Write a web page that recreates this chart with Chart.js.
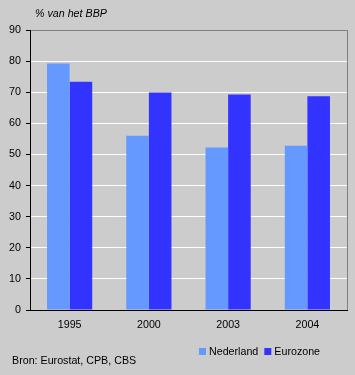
<!DOCTYPE html>
<html>
<head>
<meta charset="utf-8">
<script src="https://cdn.jsdelivr.net/npm/chart.js@4"></script>
<style>
html,body{margin:0;padding:0;background:#cccccc;}
canvas{display:block;}
</style>
</head>
<body>
<canvas id="c" width="355" height="375"></canvas>
<script>
const categories = ['1995', '2000', '2003', '2004'];
const nederland = [79.2, 56.0, 52.2, 52.8];
const eurozone = [73.4, 69.9, 69.3, 68.7];
const seriesNames = ['Nederland', 'Eurozone'];
const yTicks = [0, 10, 20, 30, 40, 50, 60, 70, 80, 90];
const titleText = '% van het BBP';
const sourceText = 'Bron: Eurostat, CPB, CBS';

const FONT = '"Liberation Sans", Arial, sans-serif';
const FS = 10.7;

const textPlugin = {
  id: 'texts',
  afterDraw(chart) {
    const ctx = chart.ctx;
    const ca = chart.chartArea;
    ctx.save();
    // right border
    ctx.strokeStyle = '#808080';
    ctx.lineWidth = 1;
    ctx.beginPath();
    ctx.moveTo(Math.round(ca.right) + 0.5, Math.round(ca.top));
    ctx.lineTo(Math.round(ca.right) + 0.5, Math.round(ca.bottom));
    ctx.stroke();
    // title
    ctx.fillStyle = '#000';
    ctx.textBaseline = 'alphabetic';
    ctx.textAlign = 'left';
    ctx.font = 'italic ' + FS + 'px ' + FONT;
    ctx.fillText(titleText, 35, 17.3);
    // source
    ctx.font = FS + 'px ' + FONT;
    ctx.fillText(sourceText, 12, 363.5);
    // legend
    let x = 199;
    chart.data.datasets.forEach(ds => {
      ctx.fillStyle = ds.backgroundColor;
      ctx.fillRect(x, 348, 7, 7);
      ctx.fillStyle = '#000';
      ctx.fillText(ds.label, x + 10, 355);
      x += 10 + ctx.measureText(ds.label).width + 6;
    });
    ctx.restore();
  }
};

new Chart(document.getElementById('c'), {
  type: 'bar',
  data: {
    labels: categories,
    datasets: [
      { label: seriesNames[0], data: nederland, backgroundColor: '#6699ff', borderWidth: 0 },
      { label: seriesNames[1], data: eurozone, backgroundColor: '#3333ff', borderWidth: 0 }
    ]
  },
  options: {
    responsive: false,
    animation: false,
    devicePixelRatio: 1,
    layout: { padding: { top: 30, left: 8, right: 8, bottom: 35 } },
    categoryPercentage: 0.57,
    barPercentage: 1.0,
    plugins: {
      legend: { display: false },
      title: { display: false },
      tooltip: { enabled: false }
    },
    scales: {
      x: {
        grid: { display: true, drawOnChartArea: false, drawTicks: false },
        border: { display: true, color: '#000', width: 1 },
        ticks: { color: '#000', font: { family: FONT, size: FS }, padding: 9, maxRotation: 0 },
        afterFit(s) { s.height = 30; }
      },
      y: {
        min: 0, max: 90,
        afterBuildTicks(s) { s.ticks = yTicks.map(v => ({ value: v })); },
        grid: {
          color: c => c.tick && c.tick.value === 90 ? '#808080' : (c.tick && c.tick.value === 0 ? '#000' : '#ffffff'),
          tickColor: '#000',
          tickLength: 4,
          lineWidth: 1
        },
        border: { display: true, color: '#000', width: 1 },
        ticks: { color: '#000', font: { family: FONT, size: FS }, padding: 5, stepSize: 10 },
        afterFit(s) { s.width = 22; }
      }
    }
  },
  plugins: [textPlugin]
});
</script>
</body>
</html>
